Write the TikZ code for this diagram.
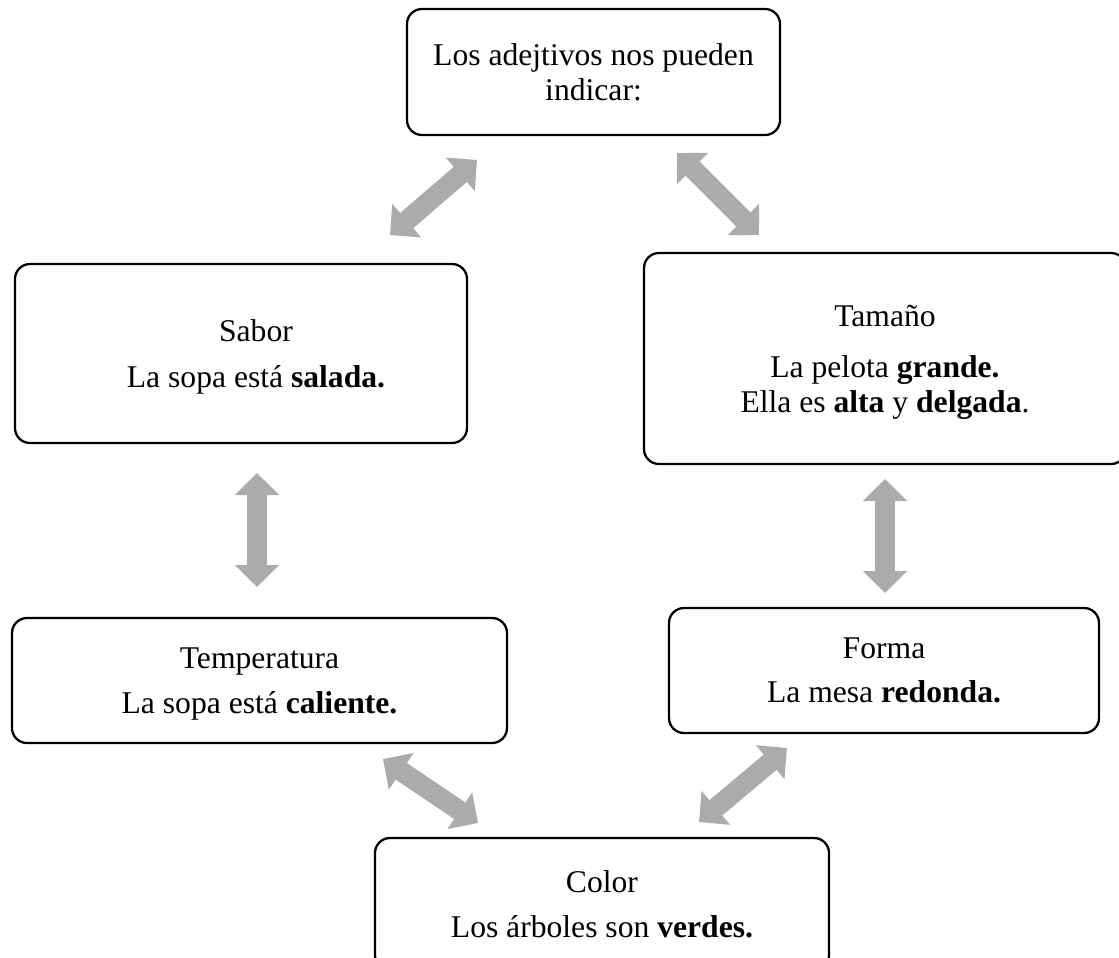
\documentclass[tikz,border=0pt]{standalone}
\usepackage{fontspec}
\setmainfont{Liberation Serif}
\usetikzlibrary{arrows.meta}
\definecolor{arrowgray}{HTML}{ABABAB}
\tikzset{
  box/.style={draw, rounded corners=0.3cm, line width=1.3pt, align=center,
              font=\fontsize{18}{20}\selectfont, inner sep=0pt, text depth=0pt},
  dblarrow/.style={draw=arrowgray, line width=0.4cm,
                   >={Triangle[width=0.86cm, length=0.44cm]}, <->},
}

\begin{document}
\begin{tikzpicture}[x=0.02cm, y=-0.02cm]
    \clip (0,0) rectangle (1119,957);
    \node[box, minimum width=373*0.02cm, minimum height=126*0.02cm] (intro) at (593.5, 72)
      {Los adejtivos nos pueden\\ indicar:};
    \node[box, minimum width=452*0.02cm, minimum height=179*0.02cm] (sabor) at (241, 353.5)
      {\hspace*{0.6cm}Sabor\\[6pt] \hspace*{0.6cm}La sopa está \textbf{salada.}};
    \node[box, minimum width=482*0.02cm, minimum height=211*0.02cm] (tamano) at (885, 358.5)
      {Tamaño\\[9pt] La pelota \textbf{grande.}\\ Ella es \textbf{alta} y \textbf{delgada}.};
    \node[box, minimum width=495*0.02cm, minimum height=125*0.02cm] (temperatura) at (259.5, 680.5)
      {Temperatura\\[6pt] La sopa está \textbf{caliente.}};
    \node[box, minimum width=430*0.02cm, minimum height=125*0.02cm] (forma) at (884, 670.5)
      {Forma\\[5pt] La mesa \textbf{redonda.}};
    \node[box, minimum width=454*0.02cm, minimum height=132*0.02cm] (color) at (602, 904)
      {Color\\[6pt] Los árboles son \textbf{verdes.}};

    % arrow ends
    \coordinate (introL) at (477, 160);
    \coordinate (saborT) at (390, 235);
    \coordinate (introR) at (677, 153);
    \coordinate (tamanoT) at (759, 235);
    \coordinate (saborB) at (257, 473);
    \coordinate (temperaturaT) at (257, 587);
    \coordinate (tamanoB) at (885, 479);
    \coordinate (formaT) at (885, 593);
    \coordinate (temperaturaB) at (383, 759);
    \coordinate (colorL) at (478, 823);
    \coordinate (formaB) at (787, 748);
    \coordinate (colorR) at (699, 822);

    \draw[dblarrow] (saborT) -- (introL);
    \draw[dblarrow] (introR) -- (tamanoT);
    \draw[dblarrow] (saborB) -- (temperaturaT);
    \draw[dblarrow] (tamanoB) -- (formaT);
    \draw[dblarrow] (temperaturaB) -- (colorL);
    \draw[dblarrow] (colorR) -- (formaB);
\end{tikzpicture}
\end{document}
